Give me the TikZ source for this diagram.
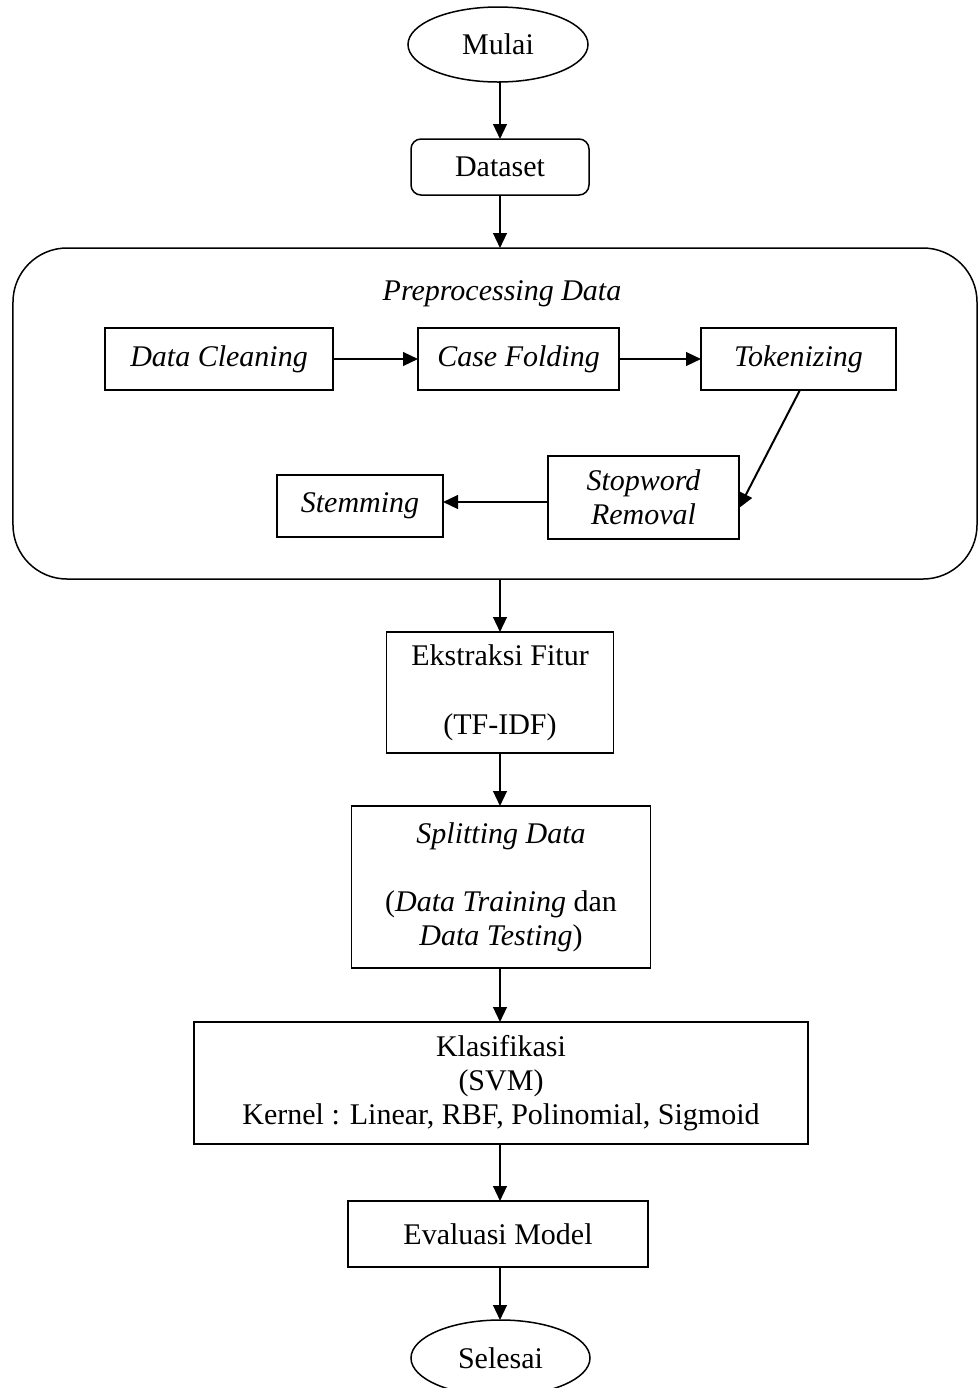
\documentclass[tikz,border=0pt]{standalone}
\usepackage{fontspec}
\setmainfont{Liberation Serif}
\usetikzlibrary{arrows.meta,shapes.geometric,calc}
\begin{document}
\begin{tikzpicture}[x=0.4pt,y=-0.4pt,
  every node/.style={font=\fontsize{12}{13.6}\selectfont, inner sep=0pt, outer sep=0pt, align=center},
  box/.style={draw, line width=0.6pt, rectangle},
  rbox/.style={draw, line width=0.6pt, rectangle, rounded corners=4pt},
  oval/.style={draw, line width=0.6pt, ellipse},
  arr/.style={line width=0.8pt, -{Triangle[length=6pt,width=5.5pt]}}]
\useasboundingbox (0,0) rectangle (979,1388);
% main column
\node[oval, minimum width=72pt, minimum height=30pt] (mulai) at (498,44.5) {Mulai};
\node[rbox, minimum width=71.2pt, minimum height=22.4pt] (dataset) at (500,167) {Dataset};
\node[draw, line width=0.6pt, rounded corners=21.6pt, minimum width=385.6pt, minimum height=132.4pt] (prep) at (495,413.5) {};
\node (preplabel) at (502,294) {\textit{Preprocessing Data}};
\node[box, minimum width=91.2pt, minimum height=24.8pt] (clean) at (219,359) {\textit{Data Cleaning}};
\node[box, minimum width=80.4pt, minimum height=24.8pt] (fold) at (518.5,359) {\textit{Case Folding}};
\node[box, minimum width=78pt, minimum height=24.8pt] (token) at (798.5,359) {\textit{Tokenizing}};
\node[box, minimum width=76.4pt, minimum height=33.2pt] (stop) at (643.5,497.5) {\textit{Stopword}\\\textit{Removal}};
\node[box, minimum width=66.4pt, minimum height=24.8pt] (stem) at (360,506) {\textit{Stemming}};
\node[box, minimum width=90.8pt, minimum height=48.4pt] (ekstraksi) at (500,692.5) {Ekstraksi Fitur\\[14pt](TF-IDF)};
\node[box, minimum width=119.6pt, minimum height=64.8pt] (split) at (501,887) {\textit{Splitting Data}\\[13.6pt](\textit{Data Training} dan\\\textit{Data Testing})};
\node[box, minimum width=245.6pt, minimum height=48.8pt] (klas) at (501,1083) {Klasifikasi\\(SVM)\\Kernel : Linear, RBF, Polinomial, Sigmoid};
\node[box, minimum width=120pt, minimum height=26.4pt] (eval) at (498,1234) {Evaluasi Model};
\node[oval, minimum width=71.6pt, minimum height=30.4pt] (selesai) at (500.5,1358) {Selesai};
% connectors
\draw[arr] (dataset.north |- mulai.south) -- (dataset.north);
\draw[arr] (dataset.south) -- (dataset.south |- prep.north);
\draw[arr] (clean.east) -- (fold.west);
\draw[arr] (fold.east) -- (token.west);
\draw[arr] ([xshift=0.6pt]token.south) -- ([yshift=-4.2pt]stop.east);
\draw[arr] ([yshift=-1.8pt]stop.west) -- ([yshift=-1.8pt]stop.west -| stem.east);
\draw[arr] (dataset.south |- prep.south) -- (dataset.south |- ekstraksi.north);
\draw[arr] (dataset.south |- ekstraksi.south) -- (dataset.south |- split.north);
\draw[arr] (dataset.south |- split.south) -- (dataset.south |- klas.north);
\draw[arr] (dataset.south |- klas.south) -- (dataset.south |- eval.north);
\draw[arr] (dataset.south |- eval.south) -- (dataset.south |- selesai.north);
\end{tikzpicture}
\end{document}
